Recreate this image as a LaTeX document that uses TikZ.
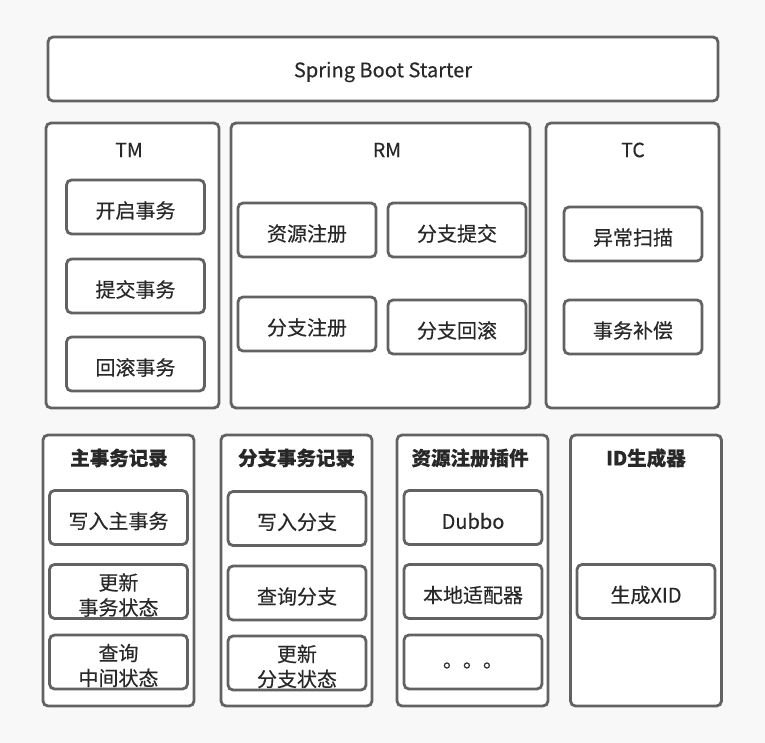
\documentclass[tikz,border=0pt]{standalone}
\usepackage{fontspec}
\setmainfont{Noto Sans CJK SC}[FakeBold=0.35]
\usepackage{tikz}
\usetikzlibrary{positioning}
\definecolor{bgc}{RGB}{248,248,248}
\definecolor{linec}{RGB}{98,98,98}
\definecolor{txtc}{RGB}{40,40,40}

\begin{document}
\begin{tikzpicture}[x=1pt, y=-1pt,
  box/.style={draw=linec, fill=white, line width=2.8pt, rounded corners=5pt, inner sep=0pt},
  panel/.style={box, minimum width=#1, minimum height=285pt},
  col/.style={box, minimum width=151pt, minimum height=271pt},
  itext/.style={text=txtc, font=\fontsize{20}{25}\selectfont, align=center, inner sep=0pt},
  item/.style={box, minimum width=138pt, minimum height=54pt,
    label={[itext, yshift=-3.5pt]center:#1}},
  title/.style={text=txtc, font=\fontsize{19.5}{24}\selectfont},
  btitle/.style={text=txtc, font=\fontsize{19.5}{24}\selectfont\bfseries}]
 \fill[bgc] (0,0) rectangle (765,743);
 \useasboundingbox (0,0) rectangle (765,743);
 % top
 \node[box, minimum width=670pt, minimum height=64pt,
   label={[itext, yshift=-3pt]center:Spring Boot Starter}] (starter) at (383,69) {};
 % TM
 \node[panel=173pt] (tm) at (132.5,265.5) {};
 \node[title] (tmt) at (129,150) {TM};
 \node[item=开启事务] (tm1) at (135.5,207) {};
 \node[item=提交事务] (tm2) at (135.5,286) {};
 \node[item=回滚事务] (tm3) at (135.5,364) {};
 % RM
 \node[panel=299pt] (rm) at (380.5,265.5) {};
 \node[title] (rmt) at (387,150) {RM};
 \node[item=资源注册] (rm1) at (307,230) {};
 \node[item=分支提交] (rm2) at (457,230) {};
 \node[item=分支注册] (rm3) at (307,324) {};
 \node[item=分支回滚] (rm4) at (457,327) {};
 % TC
 \node[panel=173pt] (tc) at (632.5,265.5) {};
 \node[title] (tct) at (633,150) {TC};
 \node[item=异常扫描] (tc1) at (633,234) {};
 \node[item=事务补偿] (tc2) at (633,327) {};
 % bottom row
 \node[col] (gr) at (118.5,570.5) {};
 \node[btitle] (grt) at (119,458) {主事务记录};
 \node[item=写入主事务] (gr1) at (118.5,517.5) {};
 \node[item=更新\\事务状态] (gr2) at (118.5,591.5) {};
 \node[item=查询\\中间状态] (gr3) at (118.5,662) {};
 \node[col] (br) at (296.5,570.5) {};
 \node[btitle] (brt) at (296.5,458) {分支事务记录};
 \node[item=写入分支] (br1) at (297,518.5) {};
 \node[item=查询分支] (br2) at (297,593) {};
 \node[item=更新\\分支状态] (br3) at (297,663) {};
 \node[col] (rp) at (472.5,570.5) {};
 \node[btitle] (rpt) at (470,458) {资源注册插件};
 \node[item=Dubbo] (rp1) at (473,517.5) {};
 \node[item=本地适配器] (rp2) at (473,591.5) {};
 \node[item=。。。] (rp3) at (473,662) {};
 \node[col] (id) at (646,570.5) {};
 \node[btitle] (idt) at (646,458) {ID生成器};
 \node[item=生成XID] (id1) at (646,591.5) {};
\end{tikzpicture}
\end{document}
